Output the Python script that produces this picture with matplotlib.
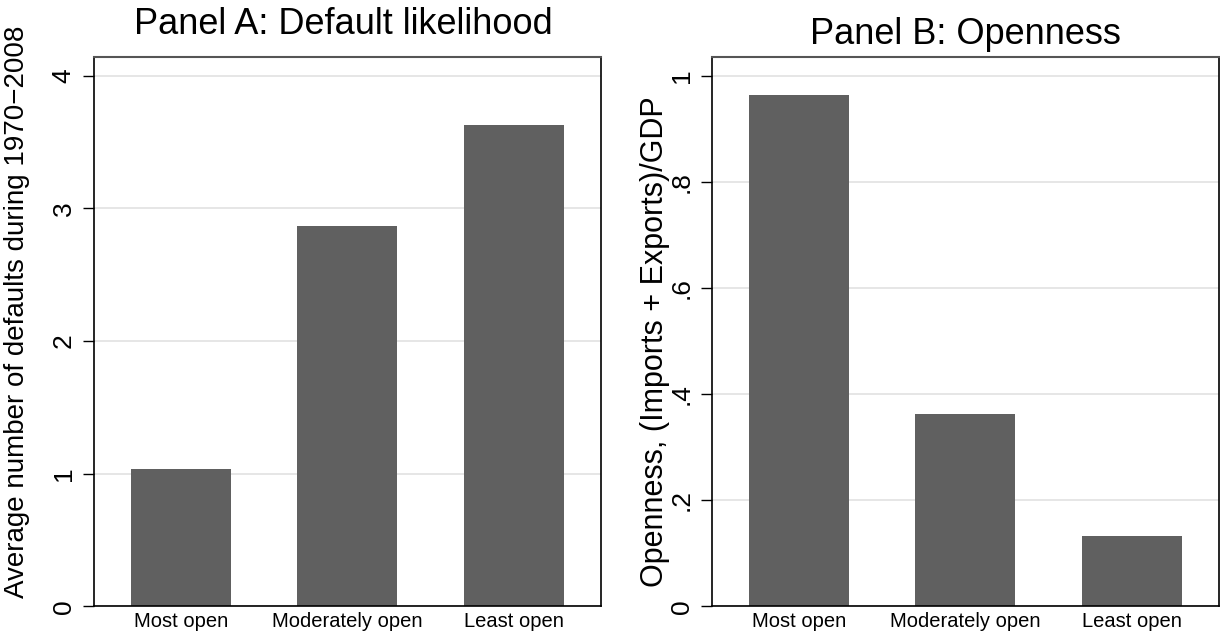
import numpy as np
import matplotlib
matplotlib.use('Agg')
import matplotlib.pyplot as plt

plt.rcParams['font.family'] = ['Liberation Sans', 'DejaVu Sans']

# Data
groups = ['Most open', 'Moderately open', 'Least open']
defaults = [1.035, 2.87, 3.63]
openness = [0.963, 0.363, 0.132]

panel_a_ticks = [0, 1, 2, 3, 4]
panel_a_ticklabels = ['0', '1', '2', '3', '4']
panel_b_ticks = [0, 0.2, 0.4, 0.6, 0.8, 1.0]
panel_b_ticklabels = ['0', '.2', '.4', '.6', '.8', '1']

bar_color = '#606060'
grid_color = '#e2e2e2'

fig = plt.figure(figsize=(12.2, 6.38), dpi=100)
fig.patch.set_facecolor('white')

ax_a = fig.add_axes([0.0768, 0.0494, 0.4158, 0.8605])
ax_b = fig.add_axes([0.5834, 0.0494, 0.4158, 0.8605])


def draw_panel(ax, values, ticks, ticklabels, ymax, ylabel, lsize, lx, ly):
    x = np.arange(len(groups))
    ax.bar(x, values, width=0.6, color=bar_color, zorder=2)
    ax.set_xlim(-0.524, 2.524)
    ax.set_ylim(0, ymax)
    ax.set_yticks(ticks)
    ax.set_yticklabels(ticklabels, rotation=90, va='center', fontsize=19)
    ax.set_xticks(x)
    ax.set_xticklabels(groups, fontsize=14.5)
    ax.tick_params(axis='x', length=0, pad=4)
    ax.tick_params(axis='y', length=8, width=1, pad=5, color='black')
    ax.yaxis.grid(True, color=grid_color, linewidth=1.2, zorder=0)
    ax.set_axisbelow(True)
    for side in ['left', 'bottom', 'right']:
        ax.spines[side].set_color('black')
        ax.spines[side].set_linewidth(1.2)
    ax.spines['top'].set_color('#555555')
    ax.spines['top'].set_linewidth(1.5)
    ax.set_ylabel(ylabel, fontsize=lsize, va='center')
    ax.yaxis.set_label_coords(lx, ly)


draw_panel(ax_a, defaults, panel_a_ticks, panel_a_ticklabels, 4.136,
           'Average number of defaults during 1970\u22122008', 20, -0.152, 0.537)
draw_panel(ax_b, openness, panel_b_ticks, panel_b_ticklabels, 1.034,
           'Openness, (Imports + Exports)/GDP', 22, -0.112, 0.482)

fig.text(0.281, 1 - 24 / 638, 'Panel A: Default likelihood', fontsize=26,
         ha='center', va='center')
fig.text(0.791, 1 - 35 / 638, 'Panel B: Openness', fontsize=26,
         ha='center', va='center')

fig.savefig('out.png', dpi=100, facecolor='white')
